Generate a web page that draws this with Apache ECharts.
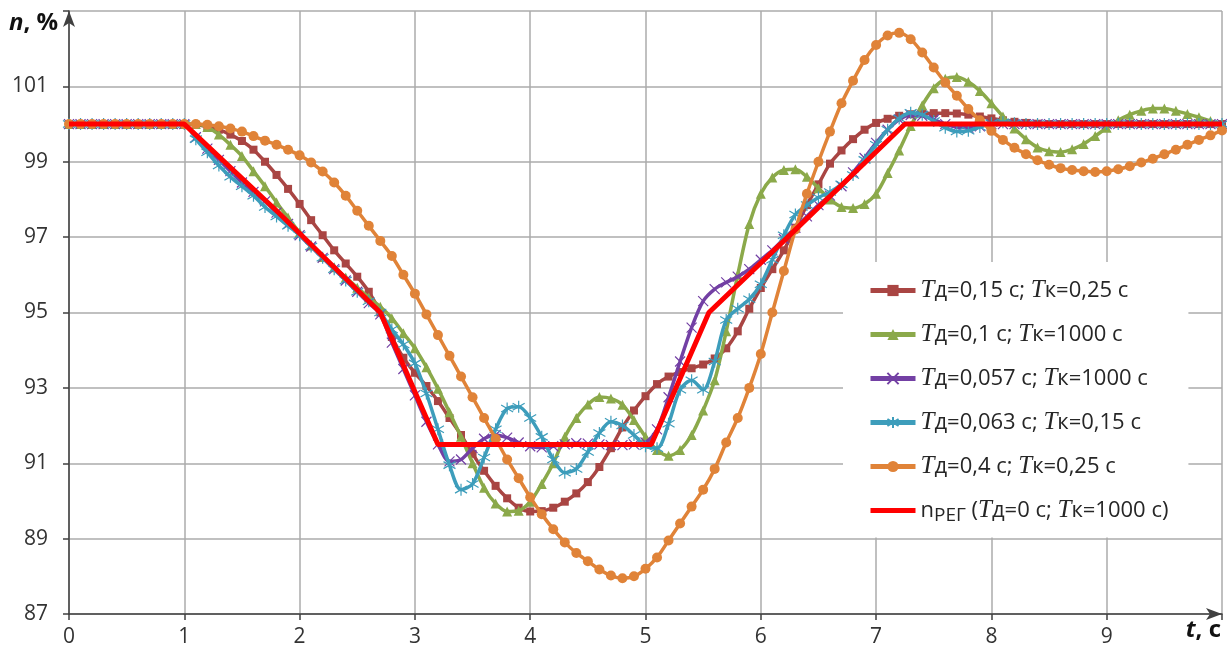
<!DOCTYPE html>
<html>
<head>
<meta charset="utf-8">
<script src="https://cdn.jsdelivr.net/npm/echarts@6/dist/echarts.min.js"></script>
<style>
  html, body { margin: 0; padding: 0; background: #fff; }
  #main { width: 1227px; height: 654px; }
</style>
</head>
<body>
<div id="main"></div>
<script>
// время, с (шаг 0,1)
var time = [];
for (var i = 0; i <= 100; i++) { time.push(+(i * 0.1).toFixed(1)); }

var seriesNames = [
  'Tд=0,15 с; Tк=0,25 с',
  'Tд=0,1 с; Tк=1000 с',
  'Tд=0,057 с; Tк=1000 с',
  'Tд=0,063 с; Tк=0,15 с',
  'Tд=0,4 с; Tк=0,25 с',
  'nРЕГ (Tд=0 с; Tк=1000 с)'
];

// Tд=0,15 с; Tк=0,25 с
var nBrown = [
  100, 100, 100, 100, 100, 100, 100, 100, 100, 100, 100,
  99.98, 99.93, 99.85, 99.72, 99.55, 99.32, 99.0, 98.65, 98.28, 97.88,
  97.45, 97.05, 96.65, 96.3, 95.95, 95.55, 95.0, 94.35, 93.8, 93.4,
  93.05, 92.65, 92.2, 91.75, 91.25, 90.8, 90.4, 90.07, 89.82, 89.72,
  89.73, 89.82, 89.98, 90.2, 90.5, 90.9, 91.4, 91.95, 92.4, 92.78,
  93.1, 93.3, 93.42, 93.52, 93.62, 93.78, 94.05, 94.5, 95.1, 95.65,
  96.15, 96.65, 97.25, 97.85, 98.4, 98.95, 99.3, 99.6, 99.85, 100.03,
  100.14, 100.22, 100.26, 100.28, 100.29, 100.29, 100.28, 100.25, 100.2, 100.15,
  100.1, 100.06, 100.03, 100.01,
  100, 100, 100, 100, 100, 100, 100, 100, 100, 100, 100, 100, 100, 100, 100, 100
];

// Tд=0,1 с; Tк=1000 с
var nGreen = [
  100, 100, 100, 100, 100, 100, 100, 100, 100, 100, 100, 100,
  99.92, 99.72, 99.45, 99.15, 98.75, 98.35, 97.92, 97.52, 97.12,
  96.78, 96.47, 96.2, 95.93, 95.66, 95.4, 95.15, 94.85, 94.45, 94.05,
  93.55, 92.98, 92.35, 91.7, 91.0, 90.35, 89.93, 89.72, 89.74, 89.98,
  90.45, 91.0, 91.7, 92.2, 92.56, 92.76, 92.72, 92.55, 92.15, 91.7,
  91.35, 91.2, 91.35, 91.75, 92.4, 93.2, 94.5, 96.0, 97.35, 98.15,
  98.58, 98.78, 98.8, 98.6, 98.3, 98.0, 97.8, 97.77, 97.88, 98.15,
  98.7, 99.3, 99.95, 100.5, 100.95, 101.2, 101.25, 101.12, 100.88, 100.55,
  100.2, 99.88, 99.6, 99.38, 99.28, 99.26, 99.33, 99.47, 99.68, 99.9,
  100.1, 100.25, 100.35, 100.41, 100.41, 100.35, 100.27, 100.18, 100.08, 100.0
];

// Tд=0,057 с; Tк=1000 с
var nPurple = [
  100, 100, 100, 100, 100, 100, 100, 100, 100, 100, 100,
  99.65, 99.35, 99.05, 98.75, 98.45, 98.2, 97.95, 97.65, 97.35, 97.05,
  96.75, 96.45, 96.15, 95.85, 95.55, 95.25, 94.95, 94.2, 93.5, 92.8,
  92.1, 91.5, 91.05, 91.1, 91.4, 91.65, 91.75, 91.68, 91.55, 91.45,
  91.42, 91.45, 91.5, 91.53, 91.52, 91.5, 91.48, 91.48, 91.5, 91.55,
  91.9, 92.75, 93.7, 94.6, 95.3, 95.62, 95.8, 95.95, 96.15, 96.4,
  96.65, 96.95, 97.25, 97.55, 97.85, 98.1, 98.35, 98.72, 99.1, 99.5,
  99.85, 100.12, 100.24, 100.22, 100.12, 100.0, 99.92, 99.9, 99.94, 100.0,
  100, 100, 100, 100, 100, 100, 100, 100, 100, 100,
  100, 100, 100, 100, 100, 100, 100, 100, 100, 100
];

// Tд=0,063 с; Tк=0,15 с
var nCyan = [
  100, 100, 100, 100, 100, 100, 100, 100, 100, 100, 100,
  99.6, 99.25, 98.9, 98.6, 98.35, 98.1, 97.8, 97.55, 97.3, 97.05,
  96.75, 96.45, 96.15, 95.85, 95.55, 95.3, 95.0, 94.55, 94.15, 93.65,
  92.85, 91.9, 90.95, 90.3, 90.45, 91.15, 91.9, 92.45, 92.5, 92.2,
  91.7, 91.1, 90.75, 90.85, 91.3, 91.8, 92.1, 92.0, 91.75, 91.45,
  91.4, 92.05, 92.95, 93.2, 92.95, 93.7, 94.8, 95.1, 95.35, 95.75,
  96.4, 97.05, 97.6, 97.85, 98.05, 98.2, 98.4, 98.65, 99.05, 99.45,
  99.85, 100.15, 100.3, 100.25, 100.08, 99.9, 99.8, 99.82, 99.92, 100.02,
  100.05, 100.02,
  100, 100, 100, 100, 100, 100, 100, 100, 100, 100, 100, 100, 100, 100, 100, 100, 100, 100
];

// Tд=0,4 с; Tк=0,25 с
var nOrange = [
  100, 100, 100, 100, 100, 100, 100, 100, 100, 100, 100,
  100.0, 99.98, 99.94, 99.88, 99.8, 99.68, 99.56, 99.45, 99.32, 99.17,
  98.98, 98.74, 98.45, 98.1, 97.7, 97.3, 96.9, 96.5, 96.0, 95.5,
  94.95, 94.4, 93.85, 93.3, 92.75, 92.2, 91.65, 91.1, 90.6, 90.1,
  89.65, 89.25, 88.9, 88.62, 88.4, 88.18, 88.02, 87.95, 88.0, 88.2,
  88.5, 88.95, 89.4, 89.85, 90.3, 90.85, 91.55, 92.2, 93.0, 93.9,
  95.0, 96.1, 97.2, 98.15, 99.0, 99.8, 100.55, 101.15, 101.7, 102.1,
  102.35, 102.42, 102.25, 101.9, 101.5, 101.1, 100.75, 100.4, 100.1, 99.82,
  99.58, 99.37, 99.2, 99.04, 98.92, 98.83, 98.78, 98.75, 98.73, 98.75,
  98.8, 98.88, 98.98, 99.08, 99.2, 99.32, 99.45, 99.58, 99.7, 99.83
];

// nРЕГ (Tд=0 с; Tк=1000 с) - ломаная
var regTime = [0, 1, 1.8, 2.7, 3.2, 5.05, 5.55, 6.2, 7.25, 10];
var regValue = [100, 100, 97.7, 95, 91.5, 91.5, 95, 96.9, 100, 100];

var colors = ['#A94543', '#8BA94A', '#7340A4', '#3D9DBB', '#E08338', '#FF0000'];

function pairs(xs, ys) {
  var out = [];
  for (var k = 0; k < xs.length; k++) { out.push([xs[k], ys[k]]); }
  return out;
}

var crossPath = 'path://M0,0L10,10M10,0L0,10';
var starPath = 'path://M0,1.5L10,8.5M10,1.5L0,8.5M5,-1L5,11';

function makeSeries(idx, values, symbol, size, extra) {
  var s = {
    name: seriesNames[idx],
    type: 'line',
    data: pairs(time, values),
    smooth: 0.3,
    symbol: symbol,
    symbolSize: size,
    showSymbol: true,
    lineStyle: { color: colors[idx], width: 3.5 },
    itemStyle: { color: colors[idx], borderColor: colors[idx], borderWidth: 0 },
    z: 2 + idx,
    animation: false
  };
  if (extra) {
    for (var key in extra) { s[key] = extra[key]; }
  }
  return s;
}

var legendRich = {
  t: { fontFamily: 'Liberation Serif', fontStyle: 'italic', fontSize: 25, color: '#262626' },
  s: { fontFamily: 'Open Sans', fontSize: 19, color: '#262626', padding: [11, 0, 0, 0] }
};

var myChart = echarts.init(document.getElementById('main'), null, { renderer: 'canvas' });

var legendData = seriesNames.map(function (n, k) {
  if (k === 5) { return { name: n, icon: 'path://M0,0L45,0L45,5L0,5Z' }; }
  return { name: n };
});

var option = {
  backgroundColor: '#fff',
  animation: false,
  grid: { left: 69, right: 5, top: 11, bottom: 40 },
  xAxis: {
    type: 'value',
    min: 0,
    max: 10,
    interval: 1,
    axisLine: {
      show: true, onZero: false,
      symbol: ['none', 'arrow'], symbolSize: [9, 16],
      lineStyle: { color: '#404040', width: 1.5 }
    },
    axisTick: { show: true, length: 6, lineStyle: { color: '#404040', width: 1.5 } },
    axisLabel: {
      fontFamily: 'Open Sans', fontSize: 21, color: '#333', margin: 13,
      formatter: function (v) { return v === 10 ? '' : String(v); }
    },
    splitLine: { show: true, lineStyle: { color: '#ABABAB', width: 1.5 } }
  },
  yAxis: {
    type: 'value',
    min: 87,
    max: 103,
    interval: 2,
    axisLine: {
      show: true, onZero: false,
      symbol: ['none', 'arrow'], symbolSize: [9, 16],
      lineStyle: { color: '#404040', width: 1.5 }
    },
    axisTick: { show: true, length: 6, lineStyle: { color: '#404040', width: 1.5 } },
    axisLabel: {
      fontFamily: 'Open Sans', fontSize: 21, color: '#333', margin: 21,
      formatter: function (v) { return v === 103 ? '' : String(v); }
    },
    splitLine: { show: true, lineStyle: { color: '#ABABAB', width: 1.5 } }
  },
  legend: {
    orient: 'vertical',
    left: 843,
    top: 262,
    backgroundColor: '#fff',
    padding: [16, 20, 12, 25],
    itemGap: 19,
    itemWidth: 45,
    itemHeight: 14,
    lineStyle: { width: 5 },
    data: legendData,
    textStyle: { fontFamily: 'Open Sans', fontSize: 22, color: '#262626', rich: legendRich },
    formatter: function (name) {
      return name.replace('РЕГ', '{s|РЕГ}').replace(/T/g, '{t|T}');
    }
  },
  graphic: [
    {
      type: 'text', left: 9, top: 11,
      style: {
        text: '{i|n}{b|, %}',
        rich: {
          i: { fontFamily: 'Open Sans', fontStyle: 'italic', fontWeight: 'bold', fontSize: 24, fill: '#111' },
          b: { fontFamily: 'Open Sans', fontWeight: 'bold', fontSize: 24, fill: '#111' }
        }
      }
    },
    {
      type: 'text', right: 6, top: 618,
      style: {
        text: '{i|t}{b|, c}',
        rich: {
          i: { fontFamily: 'Open Sans', fontStyle: 'italic', fontWeight: 'bold', fontSize: 24, fill: '#111' },
          b: { fontFamily: 'Open Sans', fontWeight: 'bold', fontSize: 24, fill: '#111' }
        }
      }
    }
  ],
  series: [
    makeSeries(0, nBrown, 'rect', 8),
    makeSeries(1, nGreen, 'triangle', 10),
    makeSeries(2, nPurple, crossPath, 10, {
      itemStyle: { color: colors[2], borderColor: colors[2], borderWidth: 1.2 }
    }),
    makeSeries(3, nCyan, starPath, 12, {
      itemStyle: { color: colors[3], borderColor: colors[3], borderWidth: 1.2 }
    }),
    makeSeries(4, nOrange, 'circle', 10),
    {
      name: seriesNames[5],
      type: 'line',
      data: pairs(regTime, regValue),
      symbol: 'none',
      lineStyle: { color: colors[5], width: 5 },
      itemStyle: { color: colors[5] },
      z: 10,
      animation: false
    }
  ]
};

myChart.setOption(option);
</script>
</body>
</html>
